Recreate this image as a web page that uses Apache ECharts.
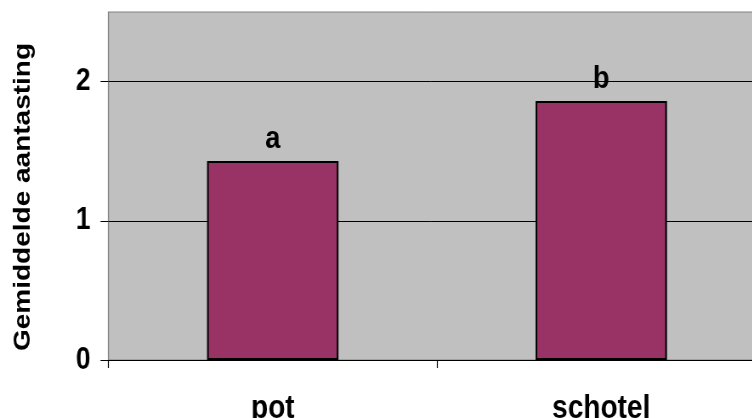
<!DOCTYPE html>
<html>
<head>
<meta charset="utf-8">
<script src="https://cdn.jsdelivr.net/npm/echarts@6/dist/echarts.min.js"></script>
<style>
  html, body { margin: 0; padding: 0; background: #ffffff; overflow: hidden; width: 752px; height: 418px; }
  /* the chart is laid out wider and squeezed horizontally so the lettering reads narrow */
  #chart { width: 885px; height: 418px; transform: scaleX(0.85); transform-origin: 0 0; }
</style>
</head>
<body>
<div id="chart"></div>
<script>
// Mean infestation per treatment, with significance letters
const categories = ['pot', 'schotel'];
const meanValues = [1.43, 1.86];
const groupLetters = ['a', 'b'];
const yTicks = [0, 1, 2];
const yTitle = 'Gemiddelde aantasting';

const SQUEEZE = 0.85;
const FONT = '"Liberation Sans", Arial, sans-serif';
const px = v => v / SQUEEZE;   // horizontal distances in the squeezed frame

const chart = echarts.init(document.getElementById('chart'), null, { renderer: 'canvas' });

chart.setOption({
  animation: false,
  backgroundColor: '#ffffff',
  grid: {
    left: px(108.5), top: 12, width: px(657), height: 348,
    outerBoundsMode: 'none', containLabel: false,
    show: true, backgroundColor: '#c0c0c0', borderColor: '#808080', borderWidth: 1
  },
  xAxis: {
    type: 'category',
    data: categories,
    boundaryGap: true,
    axisLine: { show: true, lineStyle: { color: '#000', width: 1 } },
    axisTick: { show: true, length: 8, lineStyle: { color: '#000', width: 1.2 } },
    axisLabel: {
      margin: 32, color: '#000', fontFamily: FONT, fontWeight: 'bold', fontSize: 33
    }
  },
  yAxis: {
    type: 'value',
    min: 0, max: 2.5, interval: 1,
    name: yTitle,
    nameLocation: 'middle',
    nameRotate: 90,
    nameGap: 86,
    nameTextStyle: {
      color: '#000', fontFamily: FONT, fontWeight: 'bold', fontSize: 28,
      padding: [0, 22, 0, 0]
    },
    axisLine: { show: true, lineStyle: { color: '#808080', width: 1.2 } },
    axisTick: { show: true, length: px(8), customValues: yTicks, lineStyle: { color: '#000' } },
    axisLabel: {
      customValues: yTicks,
      margin: px(18), color: '#000', fontFamily: FONT, fontWeight: 'bold', fontSize: 31,
      padding: [6, 0, 0, 0]
    },
    splitLine: { show: true, lineStyle: { color: ['#000', '#000', '#000', '#808080'], width: 1 } }
  },
  series: [{
    type: 'bar',
    data: meanValues,
    barWidth: '40%',
    itemStyle: { color: '#993366', borderColor: '#000', borderWidth: 2 },
    label: {
      show: true,
      position: 'top',
      distance: 6,
      color: '#000', fontFamily: FONT, fontWeight: 'bold', fontSize: 32,
      formatter: p => groupLetters[p.dataIndex]
    }
  }]
});
</script>
</body>
</html>
